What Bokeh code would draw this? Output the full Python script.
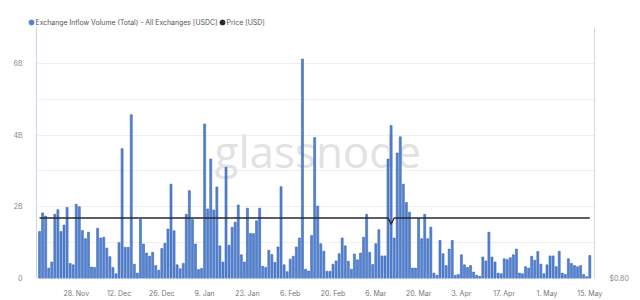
from datetime import datetime

import pandas as pd
from bokeh.core.properties import value
from bokeh.embed import file_html
from bokeh.layouts import column
from bokeh.models import ColumnDataSource, FixedTicker, LinearAxis, Range1d
from bokeh.plotting import figure
from bokeh.resources import INLINE

# ---- data -------------------------------------------------------------
first_day = "2022-11-16"

# daily exchange inflow of USDC, in billions
inflow_busdc = [
    1.31, 1.83, 1.74, 0.29, 0.46, 1.79, 1.92, 1.31, 1.49, 1.98,
    0.42, 0.38, 2.07, 2.00, 1.34, 1.11, 1.29, 0.32, 0.31, 1.40,
    1.13, 1.15, 0.85, 0.61, 0.31, 0.13, 1.00, 3.62, 0.87, 0.87,
    4.57, 0.40, 0.15, 1.65, 0.96, 0.71, 0.62, 0.73, 0.36, 0.23,
    0.84, 0.98, 1.38, 2.63, 1.33, 0.38, 0.27, 0.42, 1.79, 2.45,
    1.65, 0.96, 0.25, 0.28, 4.31, 1.94, 3.33, 1.91, 2.55, 0.91,
    0.46, 3.10, 0.93, 1.43, 1.57, 2.05, 0.66, 0.46, 1.96, 1.26,
    1.25, 1.61, 1.96, 0.34, 0.31, 0.79, 0.67, 0.45, 0.88, 2.56,
    0.38, 0.19, 0.54, 0.62, 0.88, 1.13, 6.12, 0.26, 0.21, 1.20,
    3.93, 2.02, 0.97, 0.76, 0.20, 0.20, 0.40, 0.49, 0.69, 1.13,
    0.91, 0.48, 0.26, 0.68, 0.52, 0.71, 1.15, 1.79, 0.73, 0.39,
    0.97, 1.36, 0.63, 0.63, 3.33, 4.27, 1.13, 3.50, 3.95, 2.63,
    2.12, 1.85, 0.29, 0.29, 1.67, 1.11, 1.79, 1.11, 1.43, 0.15,
    0.09, 1.06, 0.69, 0.36, 0.82, 1.06, 0.09, 0.11, 0.66, 0.38,
    0.31, 0.36, 0.18, 0.09, 0.06, 0.60, 0.49, 1.29, 0.60, 0.46,
    0.15, 0.13, 0.55, 0.53, 0.58, 0.66, 0.82, 0.15, 0.13, 0.33,
    0.29, 0.62, 0.51, 0.75, 0.40, 0.13, 0.38, 0.63, 0.63, 0.33,
    0.76, 0.15, 0.11, 0.55, 0.42, 0.36, 0.33, 0.36, 0.11, 0.05,
    0.64,
]

# daily USDC price in USD
price_usd = [
    1.00, 1.00, 1.00, 1.00, 1.00, 1.00, 1.00, 1.00, 1.00, 1.00,
    1.00, 1.00, 1.00, 1.00, 1.00, 1.00, 1.00, 1.00, 1.00, 1.00,
    1.00, 1.00, 1.00, 1.00, 1.00, 1.00, 1.00, 1.00, 1.00, 1.00,
    1.00, 1.00, 1.00, 1.00, 1.00, 1.00, 1.00, 1.00, 1.00, 1.00,
    1.00, 1.00, 1.00, 1.00, 1.00, 1.00, 1.00, 1.00, 1.00, 1.00,
    1.00, 1.00, 1.00, 1.00, 1.00, 1.00, 1.00, 1.00, 1.00, 1.00,
    1.00, 1.00, 1.00, 1.00, 1.00, 1.00, 1.00, 1.00, 1.00, 1.00,
    1.00, 1.00, 1.00, 1.00, 1.00, 1.00, 1.00, 1.00, 1.00, 1.00,
    1.00, 1.00, 1.00, 1.00, 1.00, 1.00, 1.00, 1.00, 1.00, 1.00,
    1.00, 1.00, 1.00, 1.00, 1.00, 1.00, 1.00, 1.00, 1.00, 1.00,
    1.00, 1.00, 1.00, 1.00, 1.00, 1.00, 1.00, 1.00, 1.00, 1.00,
    1.00, 1.00, 1.00, 1.00, 1.00, 0.98, 1.00, 1.00, 1.00, 1.00,
    1.00, 1.00, 1.00, 1.00, 1.00, 1.00, 1.00, 1.00, 1.00, 1.00,
    1.00, 1.00, 1.00, 1.00, 1.00, 1.00, 1.00, 1.00, 1.00, 1.00,
    1.00, 1.00, 1.00, 1.00, 1.00, 1.00, 1.00, 1.00, 1.00, 1.00,
    1.00, 1.00, 1.00, 1.00, 1.00, 1.00, 1.00, 1.00, 1.00, 1.00,
    1.00, 1.00, 1.00, 1.00, 1.00, 1.00, 1.00, 1.00, 1.00, 1.00,
    1.00, 1.00, 1.00, 1.00, 1.00, 1.00, 1.00, 1.00, 1.00, 1.00,
    1.00,
]

tick_dates = ["2022-11-28", "2022-12-12", "2022-12-26", "2023-01-09",
              "2023-01-23", "2023-02-06", "2023-02-20", "2023-03-06",
              "2023-03-20", "2023-04-03", "2023-04-17", "2023-05-01",
              "2023-05-15"]
tick_labels = ["28. Nov", "12. Dec", "26. Dec", "9. Jan", "23. Jan", "6. Feb",
               "20. Feb", "6. Mar", "20. Mar", "3. Apr", "17. Apr", "1. May",
               "15. May"]

volume_ticks = [0, 2, 4, 6]
volume_labels = ["0", "2B", "4B", "6B"]

series_names = ["Exchange Inflow Volume (Total) - All Exchanges [USDC]",
                "Price [USD]"]

# ---- styling ----------------------------------------------------------
BLUE = "#5283d3"
BLUE_EDGE = "#3a66b6"
DARK = "#2a2a2a"
FONT = "Inter"
DAY_MS = 86_400_000
W = 640
LEFT, RIGHT = 36, 46

# ---- legend strip: whole strip is the frame, x in page pixels ----------
key = figure(width=W, height=27,
             x_range=Range1d(0, W), y_range=Range1d(27, 0),
             output_backend="svg", toolbar_location=None,
             x_axis_location=None, y_axis_location=None,
             min_border=0, outline_line_color=None)
key.frame_align = False
key.grid.visible = False
key.scatter(x=[31, 222], y=[22, 22], size=5, color=[BLUE, DARK])
key.text(x=[35, 226], y=[22, 22], text=series_names,
         text_font=value(FONT), text_font_size="6.9px", text_color="#555555",
         text_align="left", text_baseline="middle")

# ---- main chart -------------------------------------------------------
days = pd.date_range(first_day, periods=len(inflow_busdc), freq="D")
src = ColumnDataSource(dict(day=days, inflow=inflow_busdc, price=price_usd))

p = figure(
    width=W, height=273,
    x_axis_type="datetime",
    x_range=Range1d(datetime(2022, 11, 15, 0), datetime(2023, 5, 16, 13)),
    y_range=Range1d(0, 7),
    output_backend="svg", toolbar_location=None,
    min_border_left=LEFT, min_border_right=RIGHT,
    min_border_top=0, min_border_bottom=20,
    background_fill_color="white", border_fill_color="white",
)
p.outline_line_color = None
p.frame_align = False

# faint brand watermark behind the bars
p.text(x=[datetime(2023, 2, 15)], y=[3.55], text=["glassnode"],
       text_font=value("Open Sans"), text_font_size="44px",
       text_color="#e2e2e2", text_align="center", text_baseline="middle")

bars = p.vbar(x="day", top="inflow", bottom=0, width=0.66 * DAY_MS, source=src,
              fill_color=BLUE, line_color=BLUE_EDGE, line_width=0.6)

# price on its own scale, axis on the right
p.extra_y_ranges = {"price": Range1d(0.8, 1.63)}
price_line = p.line(x="day", y="price", source=src, y_range_name="price",
                    line_color=DARK, line_width=1.4)

# ---- axes -------------------------------------------------------------
tick_ms = [pd.Timestamp(d).value // 10**6 for d in tick_dates]
xa = p.xaxis[0]
xa.ticker = FixedTicker(ticks=tick_ms)
xa.major_label_overrides = {float(t): lab for t, lab in zip(tick_ms, tick_labels)}
xa.axis_line_color = None
xa.major_tick_line_color = None
xa.minor_tick_line_color = None
xa.major_label_standoff = 4
xa.major_label_text_font = FONT
xa.major_label_text_font_size = "7px"
xa.major_label_text_color = "#777777"

ya = p.yaxis[0]
ya.ticker = FixedTicker(ticks=volume_ticks, minor_ticks=[1, 3, 5, 7])
ya.major_label_overrides = {t: lab for t, lab in zip(volume_ticks, volume_labels)}
ya.axis_line_color = "#c6d6ee"
ya.major_tick_line_color = None
ya.minor_tick_line_color = None
ya.major_label_standoff = 8
ya.major_label_text_font = FONT
ya.major_label_text_font_size = "7px"
ya.major_label_text_color = "#888888"

ra = LinearAxis(y_range_name="price", ticker=FixedTicker(ticks=[0.8]))
ra.major_label_overrides = {0.8: "$0.80"}
ra.axis_line_color = "#d6d6d6"
ra.major_tick_line_color = None
ra.minor_tick_line_color = None
ra.major_label_standoff = 9
ra.major_label_text_font = FONT
ra.major_label_text_font_size = "7px"
ra.major_label_text_color = "#888888"
p.add_layout(ra, "right")

p.xgrid.grid_line_color = None
p.ygrid.grid_line_color = "#efefef"
p.ygrid.minor_grid_line_color = "#efefef"

layout = column(key, p, spacing=0)
open("out.html", "w").write(file_html(layout, INLINE))
